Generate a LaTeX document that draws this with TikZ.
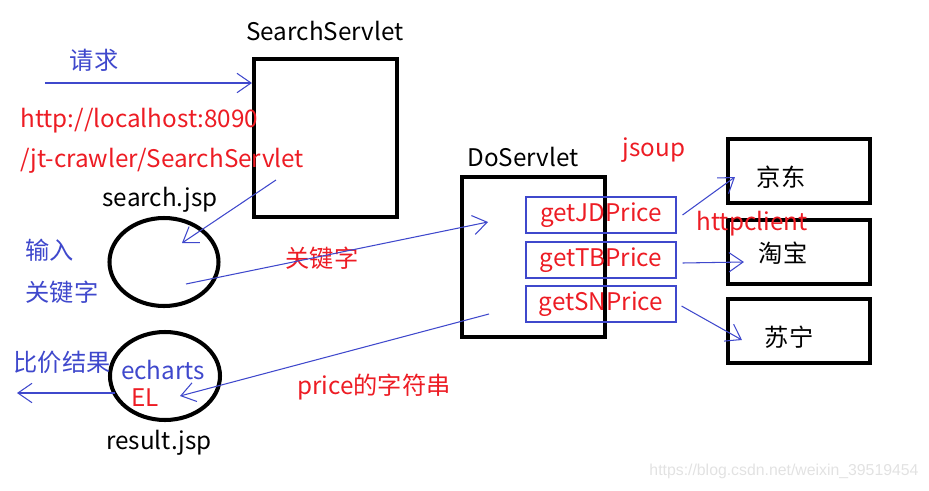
\documentclass[tikz,border=0pt]{standalone}
\usepackage{fontspec}
\setmainfont{Noto Sans CJK SC}
\newfontfamily\markfont{Liberation Sans}
\usetikzlibrary{arrows.meta, shapes.geometric}
\definecolor{pen-blue}{HTML}{3F48CC}
\definecolor{pen-red}{HTML}{ED1C24}
\definecolor{ink}{HTML}{000000}
\definecolor{faint}{HTML}{E2E2E2}

\begin{document}
\begin{tikzpicture}[
    font=\fontsize{13.8pt}{16pt}\selectfont,
    servlet/.style={
        rectangle, draw=ink, line width=2.3pt,
        minimum width=2.86cm, minimum height=3.16cm,
    },
    jsp/.style={
        ellipse, draw=ink, line width=2.3pt,
        minimum width=2.18cm, minimum height=1.76cm,
    },
    method/.style={
        rectangle, draw=pen-blue, line width=0.6pt,
        minimum width=3.0cm, minimum height=0.72cm,
        text=pen-red, inner sep=0pt,
    },
    shop/.style={
        rectangle, draw=ink, line width=2.3pt,
        minimum width=2.84cm, minimum height=1.28cm,
    },
    redtext/.style={text=pen-red, inner sep=0pt},
    bluetext/.style={text=pen-blue, inner sep=0pt},
    title/.style={text=ink, inner sep=0pt},
    flow/.style={-{Straight Barb[length=8pt, width=11pt]}, draw=pen-blue, line width=0.6pt},
]
\useasboundingbox (0,0) rectangle (18.58,9.8);

% =====================================================================
% SEARCH SIDE — request, SearchServlet, search.jsp
% =====================================================================

\node[servlet] (search-servlet) at (6.51, 7.04) {};
\node[title]   (search-title)   at (6.50, 9.18) {SearchServlet};

\node[bluetext] (req-label) at (1.88, 8.60) {请求};
\coordinate (req-start) at (0.90, 8.14);
\draw[flow] (req-start) -- (search-servlet.west |- req-start);

\node[redtext, anchor=west] (url-a) at (0.40, 7.38) {http://localhost:8090};
\node[redtext, anchor=west] (url-b) at (0.40, 6.58) {/jt-crawler/SearchServlet};

\node[title] (search-name) at (3.20, 5.80) {search.jsp};
\node[jsp]   (search-jsp)  at (3.28, 4.56) {};

\node[bluetext] (input-a) at (1.00, 4.80) {输入};
\node[bluetext] (input-b) at (1.24, 3.96) {关键字};

\draw[flow] ([shift={(0.48,0.78)}] search-servlet.south west)
    -- ([shift={(0.36,0.38)}] search-jsp.center);

% =====================================================================
% DoServlet with its three price methods
% =====================================================================

\node[servlet, minimum height=3.2cm] (do-servlet) at (10.67, 4.66) {};
\node[title] (do-title) at (10.46, 6.66) {DoServlet};

\node[method] (get-jd) at (12.02, 5.50) {getJDPrice};
\node[method] (get-tb) at (12.02, 4.60) {\raisebox{-0.06cm}{getTBPrice}};
\node[method] (get-sn) at (12.02, 3.72) {\raisebox{-0.10cm}{getSNPrice}};

\node[redtext] (kw-label) at (6.44, 4.64) {关键字};
\draw[flow] ([shift={(0.44,-0.44)}] search-jsp.center)
    -- ([shift={(-0.91,0.70)}] do-servlet.center);

% =====================================================================
% SHOPS — 京东 / 淘宝 / 苏宁
% =====================================================================

\node[shop, label={[shift={(-0.36,-0.12)}]center:京东}] (jd) at (15.98, 6.38) {};
\node[shop, label={[shift={(-0.32,-0.02)}]center:淘宝}] (tb) at (15.98, 4.76) {};
\node[shop, label={[shift={(-0.20,-0.12)}]center:苏宁}] (sn) at (15.98, 3.18) {};

\node[redtext] (jsoup)      at (13.08, 6.80) {jsoup};
\node[redtext] (httpclient) at (15.04, 5.32) {httpclient};

\draw[flow] ([xshift=0.12cm] get-jd.east)
    -- ([shift={(0.18,-0.12)}] jd.west);
\draw[flow] ([shift={(0.12,-0.06)}] get-tb.east)
    -- ([shift={(0.36,-0.20)}] tb.west);
\draw[flow] ([shift={(0.10,-0.04)}] get-sn.east)
    -- ([shift={(0.32,-0.18)}] sn.west);

% =====================================================================
% RESULT SIDE — price string back to result.jsp
% =====================================================================

\node[jsp, minimum width=2.2cm] (result-jsp) at (3.30, 2.28) {};
\node[title] (result-name) at (3.18, 0.94) {result.jsp};

\node[bluetext] (echarts) at (3.26, 2.40) {echarts};
\node[redtext]  (el)      at (2.90, 1.84) {EL};

\node[redtext] (price-label) at (7.48, 2.06) {price的字符串};
\draw[flow] ([shift={(-0.89,-1.14)}] do-servlet.center)
    -- ([shift={(0.30,-0.40)}] result-jsp.center);

\node[bluetext] (compare) at (1.24, 2.56) {比价结果};
\coordinate (result-out) at (0.34, 1.94);
\draw[flow] ([shift={(-1.0,-0.34)}] result-jsp.center) -- (result-out);

% watermark
\node[text=faint, font=\markfont\fontsize{9pt}{10pt}\selectfont] (mark) at (15.68, 0.38)
    {https://blog.csdn.net/weixin\_39519454};

\end{tikzpicture}
\end{document}
